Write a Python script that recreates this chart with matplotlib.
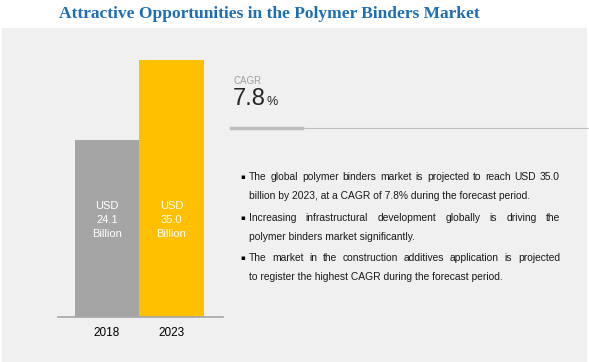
import matplotlib.pyplot as plt
from matplotlib.patches import Rectangle
from matplotlib.lines import Line2D

# data
years = ['2018', '2023']
values = [24.1, 35.0]
bar_labels = ['USD\n24.1\nBillion', 'USD\n35.0\nBillion']
cagr = '7.8'
bullets = [
    ['The global polymer binders market is projected to reach USD 35.0',
     'billion by 2023, at a CAGR of 7.8% during the forecast period.'],
    ['Increasing infrastructural development globally is driving the',
     'polymer binders market significantly.'],
    ['The market in the construction additives application is projected',
     'to register the highest CAGR during the forecast period.'],
]

W, H = 589, 362
fig = plt.figure(figsize=(W / 100, H / 100), dpi=100)
fig.patch.set_facecolor('white')
renderer = fig.canvas.get_renderer()


def fx(px):
    return px / W


def fy(py):
    return 1 - py / H


# grey panel
fig.patches.append(Rectangle((fx(2), 0), fx(585), fy(28), transform=fig.transFigure,
                             facecolor='#f0f0f0', edgecolor='none', zorder=-5))

fig.text(fx(269), fy(14), 'Attractive Opportunities in the Polymer Binders Market',
         ha='center', va='center', fontsize=12.5, fontweight='bold',
         family='Liberation Serif', color='#1f6eb4')

# ── bars ──────────────────────────────────────────────────────────────
ax = fig.add_axes([fx(58), fy(317), fx(165), (317 - 60) / H])
ax.set_facecolor('none')
ax.set_zorder(2)
x = [0, 1]
bars = ax.bar(x, values, width=1.0, color=['#a5a5a5', '#ffc000'], zorder=2)
ax.set_xlim(-0.76, 1.8)
ax.set_ylim(0, 35.0)
for s in ax.spines.values():
    s.set_visible(False)
ax.axhline(0, color='#a6a6a6', lw=1.2, zorder=3, clip_on=False)
ax.set_yticks([])
ax.set_xticks(x)
ax.set_xticklabels(years, fontsize=8.5, color='#000000', family='Liberation Sans')
ax.tick_params(axis='x', length=0, pad=7)
for xi, lab in zip(x, bar_labels):
    ax.text(xi, 13.2, lab, ha='center', va='center', color='white',
            fontsize=8, linespacing=1.45, family='Liberation Sans')

# ── CAGR block ────────────────────────────────────────────────────────
fig.text(fx(233), fy(81), 'CAGR', fontsize=7, color='#a0a0a0', va='center',
         family='Liberation Sans')
big = fig.text(fx(233), fy(105), cagr, fontsize=17, color='#262626', va='baseline',
               family='Liberation Sans')
x_end = big.get_window_extent(renderer).x1
fig.text((x_end + 1) / W, fy(105), '%', fontsize=9, color='#262626', va='baseline',
         family='Liberation Sans')
fig.add_artist(Line2D([fx(231), fx(588)], [fy(128), fy(128)], color='#bfbfbf', lw=0.8))
fig.add_artist(Line2D([fx(231), fx(302)], [fy(128), fy(128)], color='#bfbfbf', lw=2.5))

# ── bullet points (first lines justified) ─────────────────────────────
left, right = 249, 560
fs = 7.4
ys = [177, 218, 258]
for y0, lines in zip(ys, bullets):
    fig.text(fx(240), fy(y0), '\u25aa', fontsize=5, color='#000000', va='center')
    for i, line in enumerate(lines):
        yy = fy(y0 + 19 * i)
        if i == len(lines) - 1:
            fig.text(fx(left), yy, line, fontsize=fs, color='#1a1a1a',
                     va='center', family='Liberation Sans')
            continue
        words = line.split()
        texts = [fig.text(0, yy, w, fontsize=fs, color='#1a1a1a', va='center',
                          family='Liberation Sans') for w in words]
        widths = [t.get_window_extent(renderer).width for t in texts]
        gap = (right - left - sum(widths)) / (len(words) - 1)
        pos = left
        for t, w in zip(texts, widths):
            t.set_x(fx(pos))
            pos += w + gap

plt.savefig('out.png', dpi=100)
